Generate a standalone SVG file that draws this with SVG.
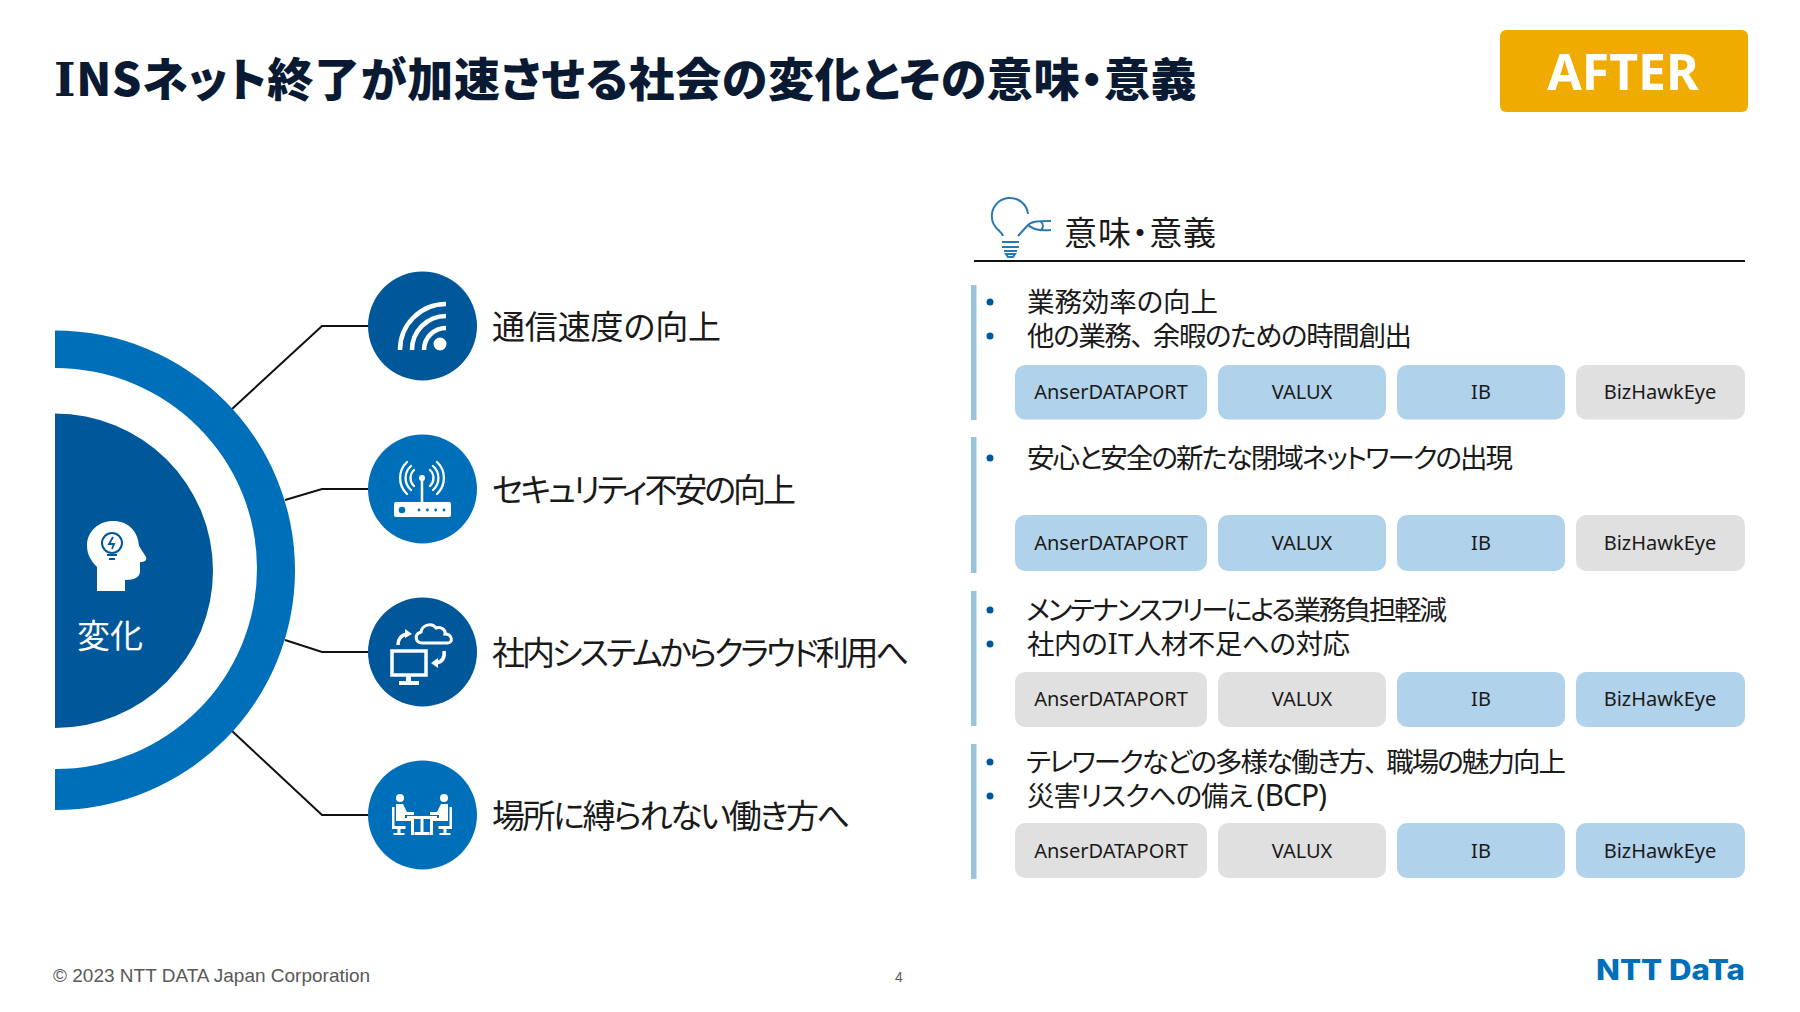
<svg xmlns="http://www.w3.org/2000/svg" width="1800" height="1012" viewBox="0 0 1800 1012">
<style>
text{font-family:"Noto Sans CJK JP","Noto Sans",sans-serif;fill:#1a1a1a;font-feature-settings:"palt"}
.lbl{font-size:33px}
.b{font-size:27.500px}
.chip{font-size:20px;text-anchor:middle;font-family:"Noto Sans","Noto Sans CJK JP",sans-serif}
.bl{fill:#B0D2EA}.gr{fill:#E0E0E0}
.bar{fill:#9CC3DD}
.dot{fill:#00589A}
.ic{fill:none;stroke:#fff;stroke-width:4.5}
.icw{fill:#fff}
.conn{fill:none;stroke:#111;stroke-width:2}
.bulb{fill:none;stroke:#2A78B0;stroke-width:2}
.ser{font-family:"DejaVu Serif",serif}
</style>
<rect width="1800" height="1012" fill="#fff"/>
<g id="title"><text x="54" y="96" style="font-size:46px;font-weight:900;fill:#0B1A33;letter-spacing:0.7px"><tspan class="ser" style="font-weight:700">I</tspan>NSネット終了が加速させる社会の変化とその意味・意義</text></g>
<g id="after"><rect x="1500" y="30" width="248" height="82" rx="6" fill="#F0AB00"/><text x="1623" y="90" text-anchor="middle" style="font-size:50px;font-weight:700;fill:#fff;font-family:'Noto Sans',sans-serif">AFTER</text></g>
<g id="connectors">
<path class="conn" d="M232 409L322 326H368"/>
<path class="conn" d="M285 500L322 489H368"/>
<path class="conn" d="M285 640L322 652H368"/>
<path class="conn" d="M232 731L322 815H368"/>
</g>
<g id="hub">
<path d="M55 330.500A240 239.750 0 0 1 55 810V769A202 200.500 0 0 0 55 368Z" fill="#006FBA"/>
<path d="M55 413.500A158 157.250 0 0 1 55 728Z" fill="#00589A"/>
<path class="icw" d="M97 591V567C92 562 87 555 87 546C87 531 99 521 113 521C128 521 138 531 139 546L146 557C147 560 145 562 140 562V571C140 577 135 580 125 580V591Z"/>
<circle cx="112" cy="543" r="10" fill="none" stroke="#00589A" stroke-width="2"/>
<path d="M113 537l-4 7h5l-2 5" fill="none" stroke="#00589A" stroke-width="1.800"/>
<path d="M107 555h10M109 559h6" stroke="#00589A" stroke-width="1.800"/>
<text x="110" y="648" text-anchor="middle" style="font-size:33px;fill:#fff">変化</text>
</g>
<g id="n1"><circle cx="422.500" cy="326" r="54.500" fill="#00589A"/>
<path class="ic" d="M446 304A46 46 0 0 0 400 350M446 316A34 34 0 0 0 412 350M446 328A22 22 0 0 0 424 350"/><circle class="icw" cx="440" cy="344" r="6.500"/>
<text class="lbl" x="492" y="339" textLength="229">通信速度の向上</text></g>
<g id="n2"><circle cx="422.500" cy="489" r="54.500" fill="#006FBA"/>
<rect class="icw" x="394" y="502" width="57" height="15" rx="2"/><circle cx="402" cy="510" r="3.300" fill="#006FBA"/>
<g fill="#006FBA"><circle cx="419" cy="510" r="1.400"/><circle cx="427.300" cy="510" r="1.400"/><circle cx="435.700" cy="510" r="1.400"/><circle cx="444" cy="510" r="1.400"/></g>
<path d="M422 478V502" stroke="#fff" stroke-width="2.500"/><circle class="icw" cx="422" cy="478" r="3"/>
<path d="M414 470A11 11 0 0 0 414 486M430 470A11 11 0 0 1 430 486M407 462A22 22 0 0 0 407 494M437 462A22 22 0 0 1 437 494M411 466A16 16 0 0 0 411 490M433 466A16 16 0 0 1 433 490" fill="none" stroke="#fff" stroke-width="2.300" stroke-linecap="round"/>
<text class="lbl" x="492" y="502" textLength="304">セキュリティ不安の向上</text></g>
<g id="n3"><circle cx="422.500" cy="652" r="54.500" fill="#00589A"/>
<rect x="392" y="651" width="34" height="24" fill="none" stroke="#fff" stroke-width="3.500"/>
<path class="icw" d="M406 676h5v5h8v4h-20v-4h7z"/>
<path d="M422 643C415 643 414 634 421 632C422 625 432 622 436 628C441 626 446 630 445 634C452 634 454 643 447 643Z" fill="none" stroke="#fff" stroke-width="3"/>
<path d="M398 645C398 638 402 635 407 634" fill="none" stroke="#fff" stroke-width="3.500"/><path class="icw" d="M405 629l7 5-7 4z"/>
<path d="M444 651C445 658 442 662 436 663" fill="none" stroke="#fff" stroke-width="3.500"/><path class="icw" d="M438 658l-7 5 7 5z"/>
<text class="lbl" x="492" y="665" textLength="417">社内システムからクラウド利用へ</text></g>
<g id="n4"><circle cx="422.500" cy="815" r="54.500" fill="#006FBA"/>
<circle class="icw" cx="400" cy="798" r="4"/><circle class="icw" cx="444" cy="798" r="4"/>
<path class="icw" d="M396 804h7l4 8h7v3h-9v3h9v17h-3v-14h-15zM448 804h-7l-4 8h-7v3h9v3h-9v17h3v-14h15z"/>
<path class="icw" d="M407 816h30v3h-13.500v13h6v3h-15v-3h6v-13h-13.500z"/>
<path class="icw" d="M392 807h2.500v19h11v3h-5v4h4v2h-11v-2h4v-4h-5.500zM452 807h-2.500v19h-11v3h5v4h-4v2h11v-2h-4v-4h5.500z"/>
<text class="lbl" x="492" y="828" textLength="358">場所に縛られない働き方へ</text></g>
<g id="meaning-header">
<path class="bulb" d="M1003 236C1001 230 992 228 992 218A18 18 0 0 1 1028 214M1018 236L1028 225C1032 221 1040 221 1051 221M1028 225C1032 229 1040 231 1051 230M1040 221C1044 224 1044 228 1040 231"/>
<path class="bulb" d="M1002 242h17M1002 247h17M1004 251h13M1006 254h9l-2 3h-5z"/>
<text x="1064" y="245" textLength="152" style="font-size:33px">意味・意義</text>
<path d="M974 261H1745" stroke="#111" stroke-width="2"/>
</g>
<g id="row1">
<rect class="bar" x="971" y="285" width="5.500" height="135"/>
<circle class="dot" cx="990" cy="302" r="3.500"/><circle class="dot" cx="990" cy="336" r="3.500"/>
<text class="b" x="1027" y="312" textLength="191">業務効率の向上</text>
<text class="b" x="1027" y="346" textLength="385">他の業務、<tspan dx="10">余暇のための時間創出</tspan></text>
<rect class="bl" x="1015" y="365" width="192" height="54.500" rx="10"/><text class="chip" x="1111" y="399">AnserDATAPORT</text>
<rect class="bl" x="1218" y="365" width="168" height="54.500" rx="10"/><text class="chip" x="1302" y="399">VALUX</text>
<rect class="bl" x="1397" y="365" width="168" height="54.500" rx="10"/><text class="chip" x="1481" y="399">IB</text>
<rect class="gr" x="1576" y="365" width="169" height="54.500" rx="10"/><text class="chip" x="1660" y="399">BizHawkEye</text>
</g>
<g id="row2">
<rect class="bar" x="971" y="437" width="5.500" height="136"/>
<circle class="dot" cx="990" cy="458" r="3.500"/>
<text class="b" x="1027" y="468" textLength="486">安心と安全の新たな閉域ネットワークの出現</text>
<rect class="bl" x="1015" y="515" width="192" height="56" rx="10"/><text class="chip" x="1111" y="550">AnserDATAPORT</text>
<rect class="bl" x="1218" y="515" width="168" height="56" rx="10"/><text class="chip" x="1302" y="550">VALUX</text>
<rect class="bl" x="1397" y="515" width="168" height="56" rx="10"/><text class="chip" x="1481" y="550">IB</text>
<rect class="gr" x="1576" y="515" width="169" height="56" rx="10"/><text class="chip" x="1660" y="550">BizHawkEye</text>
</g>
<g id="row3">
<rect class="bar" x="971" y="591" width="5.500" height="135"/>
<circle class="dot" cx="990" cy="610" r="3.500"/><circle class="dot" cx="990" cy="644" r="3.500"/>
<text class="b" x="1026" y="620" textLength="421">メンテナンスフリーによる業務負担軽減</text>
<text class="b" x="1027" y="654" textLength="323">社内の<tspan class="ser">I</tspan>T人材不足への対応</text>
<rect class="gr" x="1015" y="672" width="192" height="55" rx="10"/><text class="chip" x="1111" y="706">AnserDATAPORT</text>
<rect class="gr" x="1218" y="672" width="168" height="55" rx="10"/><text class="chip" x="1302" y="706">VALUX</text>
<rect class="bl" x="1397" y="672" width="168" height="55" rx="10"/><text class="chip" x="1481" y="706">IB</text>
<rect class="bl" x="1576" y="672" width="169" height="55" rx="10"/><text class="chip" x="1660" y="706">BizHawkEye</text>
</g>
<g id="row4">
<rect class="bar" x="971" y="744" width="5.500" height="135"/>
<circle class="dot" cx="990" cy="762" r="3.500"/><circle class="dot" cx="990" cy="796" r="3.500"/>
<text class="b" x="1026" y="772" textLength="540">テレワークなどの多様な働き方、<tspan dx="10">職場の魅力向上</tspan></text>
<text class="b" x="1027" y="806" textLength="300">災害リスクへの備え <tspan style="font-size:30px;font-family:'Noto Sans',sans-serif">(BCP)</tspan></text>
<rect class="gr" x="1015" y="823" width="192" height="55" rx="10"/><text class="chip" x="1111" y="858">AnserDATAPORT</text>
<rect class="gr" x="1218" y="823" width="168" height="55" rx="10"/><text class="chip" x="1302" y="858">VALUX</text>
<rect class="bl" x="1397" y="823" width="168" height="55" rx="10"/><text class="chip" x="1481" y="858">IB</text>
<rect class="bl" x="1576" y="823" width="169" height="55" rx="10"/><text class="chip" x="1660" y="858">BizHawkEye</text>
</g>
<g id="footer">
<text x="53" y="982" style="font-size:19px;fill:#595959;font-family:'Liberation Sans',sans-serif;font-feature-settings:normal">© 2023 NTT DATA Japan Corporation</text>
<text x="899" y="982" text-anchor="middle" style="font-size:14px;fill:#595959;font-family:'Liberation Sans',sans-serif">4</text>
<text x="1596" y="980" textLength="149" lengthAdjust="spacingAndGlyphs" style="font-size:28px;font-weight:800;fill:#006FBA;font-family:'Inter',sans-serif">NTT DaTa</text>
</g>
</svg>
